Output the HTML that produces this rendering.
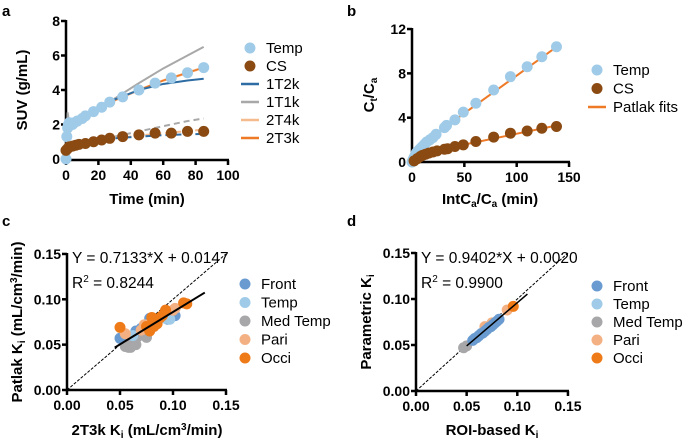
<!DOCTYPE html>
<html><head><meta charset="utf-8"><style>
body{margin:0;background:#fff}
svg{display:block;font-family:"Liberation Sans",Arial,sans-serif}
.t{font-weight:bold;font-size:14px}
.a{font-weight:bold;font-size:15px}
.l{font-size:15px}
.e{font-size:15.5px}
</style></head><body>
<svg id="s" width="685" height="443"></svg>
<script>
// Panel a data
const aTempT=[0,0.5,1,1.5,2,3,4,5,7,10,12,17,22,27,35,45,55,65,75,85];
const aTempV=[0,1.3,1.8,2.0,2.1,2.0,2.0,2.1,2.2,2.35,2.5,2.75,3.0,3.3,3.6,4.0,4.4,4.7,5.0,5.3];
const aCsT=[0,1,2,4,6,8,12,17,22,27,35,45,55,65,75,85];
const aCsV=[0.5,0.6,0.7,0.75,0.8,0.85,0.9,1.0,1.1,1.2,1.3,1.4,1.5,1.5,1.6,1.6];
const aFitT=[0,1,2,5,10,20,30,45,60,75,85];
const a1T2kTemp=[0,1.9,2.0,2.1,2.35,2.9,3.45,4.0,4.35,4.55,4.65];
const a1T1kTemp=[0,2.7,2.1,2.1,2.35,2.9,3.5,4.4,5.25,6.0,6.5];
const a2TTemp=[0,1.8,2.0,2.1,2.35,2.85,3.4,4.0,4.55,5.0,5.3];
const a1T2kCs=[0,0.6,0.7,0.8,0.9,1.05,1.2,1.3,1.38,1.43,1.45];
const a1T1kCs=[0,0.6,0.7,0.8,0.9,1.1,1.3,1.6,1.9,2.2,2.35];
const a2TCs=[0,0.6,0.7,0.8,0.9,1.05,1.2,1.35,1.5,1.62,1.7];
// Panel b data
const bTempX=[0,1,2,3,4,5,6,7,8,9,10,12,14,17,20,23,31,33,41,49,61,78,94,110,124,138];
const bTempY=[0,0.2,0.4,0.6,0.8,0.9,1.0,1.1,1.2,1.3,1.4,1.6,1.8,2.0,2.2,2.5,3.1,3.3,3.8,4.5,5.3,6.5,7.7,8.6,9.5,10.4];
const bCsX=[2,5,8,10,13,16,20,24,31,34,41,49,61,78,94,110,124,138];
const bCsY=[0.1,0.3,0.5,0.6,0.7,0.8,0.9,1.0,1.15,1.2,1.4,1.55,1.85,2.25,2.6,2.8,3.05,3.2];
const bFitTemp=[1.0,0.068];
const bFitCs=[0.6,0.0195];
// Panel c data
const cFrontX=[0.05,0.078,0.095,0.102,0.065,0.07], cFrontY=[0.057,0.079,0.078,0.082,0.065,0.068];
const cTempX=[0.093,0.097,0.075,0.062], cTempY=[0.079,0.078,0.07,0.06];
const cMedX=[0.055,0.058,0.06,0.062,0.064,0.066,0.068,0.075,0.056,0.06,0.065], cMedY=[0.048,0.047,0.05,0.052,0.055,0.058,0.06,0.058,0.05,0.047,0.05];
const cPariX=[0.055,0.07,0.085,0.1,0.102,0.073], cPariY=[0.062,0.066,0.077,0.088,0.09,0.072];
const cOcciX=[0.05,0.075,0.08,0.082,0.085,0.088,0.09,0.093,0.11,0.113,0.078,0.082], cOcciY=[0.069,0.07,0.08,0.075,0.073,0.08,0.082,0.088,0.096,0.095,0.065,0.07];
const cFit=[0.7133,0.0147];
// Panel d data
const dMedX=[0.047,0.05], dMedY=[0.047,0.049];
const dTempX=[0.06,0.065,0.07], dTempY=[0.058,0.063,0.067];
const dPariX=[0.068,0.075,0.09], dPariY=[0.07,0.074,0.088];
const dOcciX=[0.096], dOcciY=[0.092];
const dFrontX=[0.056,0.058,0.06,0.062,0.064,0.066,0.068,0.07,0.072,0.074,0.076,0.078,0.08,0.082], dFrontY=[0.055,0.057,0.058,0.06,0.062,0.063,0.065,0.067,0.069,0.07,0.072,0.074,0.076,0.078];
const dFit=[0.9402,0.0020];
const tickA_X=[0,20,40,60,80,100], tickA_Y=[0,2,4,6,8];
const tickB_X=[0,50,100,150], tickB_Y=[0,4,8,12];
const tickK=[0,0.05,0.10,0.15];

const S=document.getElementById('s'),NS='http://www.w3.org/2000/svg';
function E(t,a,p){const e=document.createElementNS(NS,t);for(const k in a)e.setAttribute(k,a[k]);(p||S).appendChild(e);return e;}
function T(x,y,s,cls,anc,p){const e=E('text',{x:x,y:y,class:cls,'text-anchor':anc||'start'},p);e.textContent=s;return e;}
const C={temp:'#9fcbe8',cs:'#8a4a12',t2k:'#2e6da4',t1k:'#a8a8a8',t4k:'#f6bb8d',t3k:'#ee7a27',front:'#6a9bd0',med:'#a7a7a9',pari:'#f3b183',occi:'#ef7a18'};
function axes(x0,y0,x1,y1,sx,sy,xt,yt,fmt,name){
  const g=E('g',{});
  
  
  E('line',{x1:x0,y1:y0,x2:x1+1,y2:y0,stroke:'#000','stroke-width':2.5},g);
  E('line',{x1:x0,y1:y0+1,x2:x0,y2:y1-1,stroke:'#000','stroke-width':2.5},g);
  xt.forEach(v=>{const x=sx(v);E('line',{x1:x,y1:y0,x2:x,y2:y0+5,stroke:'#000','stroke-width':2.5},g);T(x,y0+20,fmt(v),'t','middle',g);});
  yt.forEach(v=>{const y=sy(v);E('line',{x1:x0-5,y1:y,x2:x0,y2:y,stroke:'#000','stroke-width':2.5},g);T(x0-6,y+5,fmt(v),'t','end',g);});
}
function pts(xs,ys,sx,sy,col,r,name){xs.forEach((v,i)=>{const c=E('circle',{cx:sx(v),cy:sy(ys[i]),r:r,fill:col});
  
  });}
function line(xs,ys,sx,sy,col,w,dash,name){const d=xs.map((v,i)=>(i?'L':'M')+sx(v)+','+sy(ys[i])).join('');
  const p=E('path',{d:d,fill:'none',stroke:col,'stroke-width':w,'stroke-dasharray':dash||'none'});
  
  }
function legend(x,y0,dy,items){items.forEach((it,i)=>{const y=y0+i*dy;
  if(it[2]==='c')E('circle',{cx:x,cy:y,r:5.5,fill:it[1]});else E('line',{x1:x-9,y1:y,x2:x+9,y2:y,stroke:it[1],'stroke-width':2.5});
  const t=T(x+16,y+5,it[0],'l');
  
  });}
function panel(l,x,y){const t=T(x,y,l,'t');t.style.fontSize='15px';}
// a
let ax=v=>66+v*1.62, ay=v=>159-v*17.25;
panel('a',2,16);
axes(66,160,228,21,ax,ay,tickA_X,tickA_Y,v=>v,'panel-a');
line(aFitT,a1T1kTemp,ax,ay,C.t1k,2,'','fit-1t1k-temp');
line(aFitT,a2TTemp,ax,ay,C.t4k,2.5,'','fit-2t4k-temp');
line(aFitT,a2TTemp,ax,ay,C.t3k,1.5,'','fit-2t3k-temp');
line(aFitT,a1T2kTemp,ax,ay,C.t2k,2,'','fit-1t2k-temp');
line(aFitT,a1T1kCs,ax,ay,C.t1k,2,'6,4','fit-1t1k-cs');
line(aFitT,a2TCs,ax,ay,C.t4k,2,'6,4','fit-2t-cs');
line(aFitT,a1T2kCs,ax,ay,C.t2k,2,'6,4','fit-1t2k-cs');
pts(aTempT,aTempV,ax,ay,C.temp,5.5,'temp-point');
pts(aCsT,aCsV,ax,ay,C.cs,5.5,'cs-point');
let t=T(0,0,'SUV (g/mL)','a','middle');t.setAttribute('transform','translate(27,90) rotate(-90)');
T(147,204,'Time (min)','a','middle');
legend(250,48,18,[['Temp',C.temp,'c'],['CS',C.cs,'c'],['1T2k',C.t2k],['1T1k',C.t1k],['2T4k',C.t4k],['2T3k',C.t3k]]);
// b
let bx=v=>412+v*1.047, by=v=>162-v*11.08;
panel('b',347,16);
axes(412,162,569,29,bx,by,tickB_X,tickB_Y,v=>v,'panel-b');
line([0,138],[bFitTemp[0],bFitTemp[0]+bFitTemp[1]*138],bx,by,C.t3k,2,'','patlak-fit-temp');
line([5,138],[bFitCs[0]+bFitCs[1]*5,bFitCs[0]+bFitCs[1]*138],bx,by,C.t3k,2,'','patlak-fit-cs');
pts(bTempX,bTempY,bx,by,C.temp,5.5,'temp-point');
pts(bCsX,bCsY,bx,by,C.cs,5.5,'cs-point');
t=E('text',{class:'a','text-anchor':'middle',transform:'translate(374,95) rotate(-90)'});t.innerHTML='C<tspan font-size="10" dy="3">t</tspan><tspan dy="-3">/C</tspan><tspan font-size="10" dy="3">a</tspan>';
t=E('text',{class:'a','text-anchor':'middle',x:490,y:204});t.innerHTML='IntC<tspan font-size="10" dy="3">a</tspan><tspan dy="-3">/C</tspan><tspan font-size="10" dy="3">a</tspan><tspan dy="-3"> (min)</tspan>';
legend(597,70,18.5,[['Temp',C.temp,'c'],['CS',C.cs,'c'],['Patlak fits',C.t3k]]);
// c
let cx=v=>67+v*1060, cy=v=>390-v*907;
panel('c',2,226);
axes(67,390,226,254,cx,cy,tickK,tickK,v=>v.toFixed(2),'panel-c');
line([0,0.15],[0,0.15],cx,cy,'#000',1,'3,1.5','identity-line');
pts(cMedX,cMedY,cx,cy,C.med,5.5,'med-temp-point');
pts(cFrontX,cFrontY,cx,cy,C.front,5.5,'front-point');
pts(cTempX,cTempY,cx,cy,C.temp,5.5,'temp-point');
pts(cPariX,cPariY,cx,cy,C.pari,5.5,'pari-point');
pts(cOcciX,cOcciY,cx,cy,C.occi,5.5,'occi-point');
line([0.045,0.13],[cFit[1]+cFit[0]*0.045,cFit[1]+cFit[0]*0.13],cx,cy,'#000',2,'','regression-line');
T(72,263,'Y = 0.7133*X + 0.0147','e');
t=E('text',{class:'e',x:72,y:288});t.innerHTML='R<tspan font-size="10" dy="-6">2</tspan><tspan dy="6"> = 0.8244</tspan>';
t=E('text',{class:'a','text-anchor':'middle',transform:'translate(22,322) rotate(-90)'});t.innerHTML='Patlak K<tspan font-size="10" dy="3">i</tspan><tspan dy="-3"> (mL/cm</tspan><tspan font-size="10" dy="-5">3</tspan><tspan dy="5">/min)</tspan>';
t=E('text',{class:'a','text-anchor':'middle',x:147,y:435});t.innerHTML='2T3k K<tspan font-size="10" dy="3">i</tspan><tspan dy="-3"> (mL/cm</tspan><tspan font-size="10" dy="-5">3</tspan><tspan dy="5">/min)</tspan>';
legend(245,284,18.5,[['Front',C.front,'c'],['Temp',C.temp,'c'],['Med Temp',C.med,'c'],['Pari',C.pari,'c'],['Occi',C.occi,'c']]);
// d
let dx=v=>416+v*1013, dy=v=>391-v*920;
panel('d',347,226);
axes(416,391,568,253,dx,dy,tickK,tickK,v=>v.toFixed(2),'panel-d');
line([0,0.15],[0,0.15],dx,dy,'#000',1,'3,1.5','identity-line');
pts(dMedX,dMedY,dx,dy,C.med,5.5,'med-temp-point');
pts(dTempX,dTempY,dx,dy,C.temp,5.5,'temp-point');
pts(dPariX,dPariY,dx,dy,C.pari,5.5,'pari-point');
pts(dOcciX,dOcciY,dx,dy,C.occi,5.5,'occi-point');
pts(dFrontX,dFrontY,dx,dy,C.front,5.5,'front-point');
line([0.05,0.11],[dFit[1]+dFit[0]*0.05,dFit[1]+dFit[0]*0.11],dx,dy,'#000',1.5,'','regression-line');
T(421,263,'Y = 0.9402*X + 0.0020','e');
t=E('text',{class:'e',x:421,y:288});t.innerHTML='R<tspan font-size="10" dy="-6">2</tspan><tspan dy="6"> = 0.9900</tspan>';
t=E('text',{class:'a','text-anchor':'middle',transform:'translate(371,322) rotate(-90)'});t.innerHTML='Parametric K<tspan font-size="10" dy="3">i</tspan>';
t=E('text',{class:'a','text-anchor':'middle',x:492,y:435});t.innerHTML='ROI-based K<tspan font-size="10" dy="3">i</tspan>';
legend(597,286,18,[['Front',C.front,'c'],['Temp',C.temp,'c'],['Med Temp',C.med,'c'],['Pari',C.pari,'c'],['Occi',C.occi,'c']]);
</script>
</body></html>
